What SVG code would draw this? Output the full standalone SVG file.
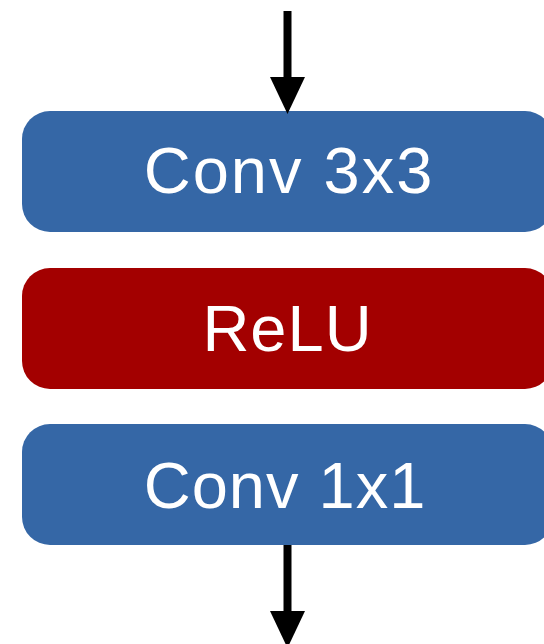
<svg xmlns="http://www.w3.org/2000/svg" width="544" height="644" viewBox="0 0 544 644">
  <style>
    .box-blue { fill: #3567A6; }
    .box-red { fill: #A30000; }
    .label { fill: #FFFFFF; font-family: "Liberation Sans", Arial, Helvetica, sans-serif; font-size: 65px; text-anchor: middle; letter-spacing: 2px; }
    .tight { letter-spacing: 1px; }
    .conn { stroke: #000000; stroke-width: 8; fill: none; }
  </style>
  <defs>
    <marker id="arrowhead" markerUnits="userSpaceOnUse" markerWidth="37" markerHeight="35" viewBox="0 0 37 35" refX="1" refY="17.5" orient="auto">
      <path d="M0,0 L37,17.5 L0,35 Z" fill="#000000"/>
    </marker>
  </defs>
  <rect width="544" height="644" fill="#FFFFFF"/>
  <g id="node-conv3x3">
    <rect class="box-blue" x="22" y="111" width="531" height="121" rx="28" ry="28"/>
    <text class="label" x="289" y="193">Conv 3x3</text>
  </g>
  <g id="node-relu">
    <rect class="box-red" x="22" y="268" width="531" height="121" rx="28" ry="28"/>
    <text class="label tight" x="287.5" y="351">ReLU</text>
  </g>
  <g id="node-conv1x1">
    <rect class="box-blue" x="22" y="424" width="531" height="121" rx="28" ry="28"/>
    <text class="label tight" x="285" y="508">Conv 1x1</text>
  </g>
  <g id="connectors">
    <line class="conn" x1="287.5" y1="11" x2="287.5" y2="78" marker-end="url(#arrowhead)"/>
    <line class="conn" x1="287.5" y1="545" x2="287.5" y2="612" marker-end="url(#arrowhead)"/>
  </g>
</svg>
